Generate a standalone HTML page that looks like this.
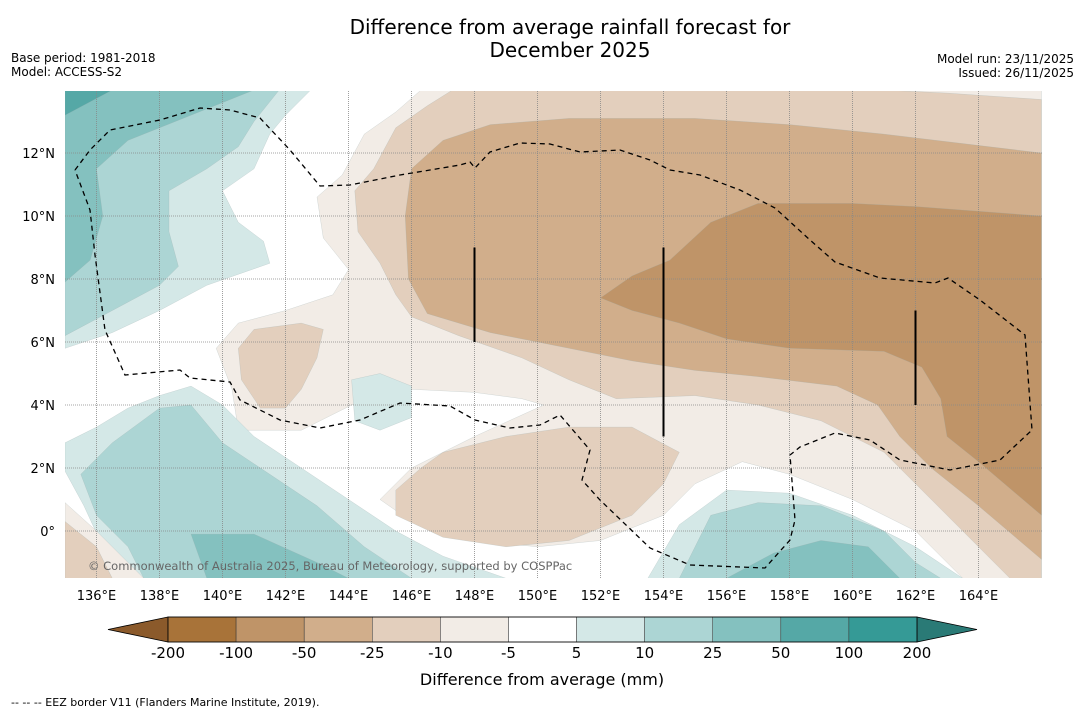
<!DOCTYPE html>
<html><head><meta charset="utf-8">
<style>
body{margin:0;background:#fff;font-family:"Liberation Sans","DejaVu Sans",sans-serif;}
svg text{font-family:"DejaVu Sans","Liberation Sans",sans-serif;}
</style></head>
<body>
<svg id="chart" width="1085" height="713" viewBox="0 0 1085 713" xmlns="http://www.w3.org/2000/svg">
<text x="570" y="34" font-size="20" text-anchor="middle">Difference from average rainfall forecast for</text>
<text x="570" y="57" font-size="20" text-anchor="middle">December 2025</text>
<text x="11" y="62" font-size="12">Base period: 1981-2018</text>
<text x="11" y="76" font-size="12">Model: ACCESS-S2</text>
<text x="1074" y="63" font-size="12" text-anchor="end">Model run: 23/11/2025</text>
<text x="1074" y="77" font-size="12" text-anchor="end">Issued: 26/11/2025</text>
<defs><clipPath id="mapclip"><rect x="65" y="91" width="977" height="487"/></clipPath></defs>
<g id="map" clip-path="url(#mapclip)">
<rect x="65" y="91" width="977" height="487" fill="#fff"/>
<g id="fills"></g>
<g id="grid"></g>
<path id="eez" fill="none" stroke="#000" stroke-width="1.3" stroke-dasharray="5,4" d="M75,170 L90,150 110,130 160,120 200,108 230,110 260,118 290,150 320,186 350,185 400,175 460,165 470,162 475,168 490,152 520,143 550,144 580,152 620,150 650,160 670,170 700,175 740,190 775,208 810,240 835,262 880,278 935,283 948,278 980,300 1025,335 1032,430 1000,460 950,470 900,460 870,440 835,433 800,447 790,455 795,520 790,540 765,568 690,565 650,548 600,500 582,480 590,450 560,415 540,425 510,428 475,420 450,406 400,403 360,420 320,428 280,420 240,400 230,382 190,378 180,370 125,375 105,330 95,255 90,210 75,170"/>
<g id="marks"></g>
<text x="88" y="570" font-size="11.5" fill="#666">© Commonwealth of Australia 2025, Bureau of Meteorology, supported by COSPPac</text>
</g>
<g id="xticks"></g>
<g id="yticks"></g>
<g id="colorbar"></g>
<text x="542" y="685" font-size="16" text-anchor="middle">Difference from average (mm)</text>
<text x="11" y="706" font-size="11">--  --  -- EEZ border V11 (Flanders Marine Institute, 2019).</text>
</svg>
<script>
const NS="http://www.w3.org/2000/svg";
const lonMin=135, lonMax=166, latMin=-1.5, latMax=14;
const X=lon=>65+(lon-lonMin)*31.5;
const Y=lat=>531-lat*31.5;
const lonTicks=[136,138,140,142,144,146,148,150,152,154,156,158,160,162,164];
const latTicks=[0,2,4,6,8,10,12];
const cbLabels=["-200","-100","-50","-25","-10","-5","5","10","25","50","100","200"];
const cbColors=["#a87339","#bf9468","#d1ae8b","#e3cfbd","#f2ece6","#ffffff","#d4e8e7","#acd5d4","#84c1bf","#55a8a6","#359a96"];
const lowColor="#8b5a2b", highColor="#2a7a76";
const regionLevels=["#f2ece6","#e3cfbd","#e3cfbd","#e3cfbd","#d1ae8b","#bf9468","#d4e8e7","#acd5d4","#84c1bf","#55a8a6","#d4e8e7","#acd5d4","#84c1bf","#f2ece6","#e3cfbd","#d4e8e7","#d4e8e7","#acd5d4","#84c1bf"];
const regionShapes=[
[[146.3,14],[145.5,13.3],[144.5,12.6],[143.8,11.3],[143,10.6],[143.2,9.3],[144,8.3],[143.5,7.5],[142,7],[140.5,6.6],[139.8,5.8],[140.3,4.5],[140.5,3.2],[142.5,3.2],[144.5,4.2],[146,4.5],[148,4.4],[149.5,4.2],[150.2,4],[148,3],[146,2],[145,1],[146,0.3],[148,-0.3],[150,-0.5],[152,-0.3],[154,0.5],[155,1.5],[156.5,2.2],[158,1.8],[160,1],[162,0],[163.5,-1.5],[166,-1.5],[166,14]],
[[147.3,14],[146.5,13.5],[145.5,12.8],[144.8,11.5],[144.2,10.8],[144.3,9.5],[145,8.5],[145.5,7.5],[146,6.8],[147.5,6.2],[149.5,5.5],[151,4.8],[152.5,4.2],[155,4.3],[157,4],[159,3.5],[161,2.5],[162.5,1],[164,-0.5],[165,-1.5],[166,-1.5],[166,13.7],[163,13.9],[161,14]],
[[146.3,2],[147,2.5],[149,3],[151,3.3],[153,3.3],[154.5,2.5],[154,1.5],[153,0.5],[151,-0.3],[149,-0.5],[147,-0.2],[145.5,0.5],[145.5,1.3]],
[[140.5,5.8],[141,6.4],[142.5,6.6],[143.2,6.4],[143,5.5],[142.5,4.5],[142,3.9],[141.2,3.9],[140.6,4.8]],
[[148.5,12.9],[151,13.1],[155,13.1],[158,12.9],[161,12.6],[166,12],[166,-0.9],[164,0.8],[162.5,2],[161.5,3],[160.8,4],[159.5,4.6],[157,4.9],[155,5.1],[153,5.4],[151,5.8],[148.5,6.3],[146.5,6.9],[145.9,8],[145.8,10],[146,11.5],[147,12.4]],
[[152,7.4],[153,8.1],[154.2,8.6],[155.5,9.8],[157,10.4],[160,10.4],[162,10.3],[166,10],[166,0.5],[164,2.2],[163,3],[162.8,4.2],[162.2,5.2],[161,5.7],[158,5.8],[156,6.1],[154.5,6.6],[153,7]],
[[135,5.8],[136.5,6.3],[138,7],[139.5,7.8],[141.5,8.5],[141.3,9.2],[140.5,9.8],[140,10.8],[141,11.5],[141.5,12.6],[142,13.2],[142.8,14],[135,14]],
[[135,6.2],[136.5,7],[138,7.8],[138.6,8.4],[138.3,9.5],[138.3,10.8],[139.5,11.5],[140.5,12.2],[141,13],[141.8,14],[135,14]],
[[135,7.9],[135.8,8.6],[136.2,10],[136,11.5],[137,12.4],[138.5,13],[140,13.6],[141,14],[135,14]],
[[135,13.2],[136.5,14],[135,14]],
[[135,2.8],[136,3.3],[137,3.9],[138,4.3],[139,4.6],[140,4],[141,3],[142.5,2],[144,1],[145.5,0],[147,-0.8],[149,-1.5],[136.8,-1.5],[136.2,-0.5],[135.6,0.8],[135,1.9]],
[[135.5,1.8],[136.5,2.8],[138,3.9],[139,4],[140,2.8],[141.5,1.8],[143,0.8],[144.5,-0.5],[146,-1.5],[137.5,-1.5],[137,-0.5],[136,0.5]],
[[139,-0.1],[141,-0.1],[143,-1],[144,-1.5],[139.5,-1.5]],
[[135,0.9],[136,0],[137,-1],[137.5,-1.5],[135,-1.5]],
[[135,0.3],[136,-0.5],[136.5,-1.5],[135,-1.5]],
[[144.1,4.8],[145,5],[146,4.6],[146,3.6],[145,3.2],[144.2,3.5]],
[[153.5,-1.5],[154.5,0.2],[156,1.3],[158,1.2],[160,0.5],[162,-0.5],[163.5,-1.5]],
[[154.5,-1.5],[155.5,0.5],[157,0.9],[159,0.8],[161,0],[162,-1],[162.8,-1.5]],
[[156,-1.5],[157.5,-0.7],[159,-0.3],[160.5,-0.5],[161.5,-1.5]]
];
const barLons=[148,154,162];
const barTop=[9,9,7];
const barBottom=[6,3,4];

function mk(tag,attrs,parent){const e=document.createElementNS(NS,tag);for(const k in attrs)e.setAttribute(k,attrs[k]);parent.appendChild(e);return e;}
const fills=document.getElementById('fills');
regionShapes.forEach((pts,i)=>{
  const p=mk('polygon',{points:pts.map(q=>X(q[0]).toFixed(1)+','+Y(q[1]).toFixed(1)).join(' '),fill:regionLevels[i],stroke:'#9aa',"stroke-width":0.4,"stroke-opacity":0.5},fills);
  
  
});
const grid=document.getElementById('grid');
lonTicks.forEach(l=>{const g=mk('line',{x1:X(l),x2:X(l),y1:91,y2:578,stroke:'#888',"stroke-width":0.8,"stroke-dasharray":"1,1"},grid);
  
  });
latTicks.forEach(l=>{const g=mk('line',{x1:65,x2:1042,y1:Y(l),y2:Y(l),stroke:'#888',"stroke-width":0.8,"stroke-dasharray":"1,1"},grid);
  
  });
const marks=document.getElementById('marks');
barLons.forEach((l,i)=>{const b=mk('line',{x1:X(l),x2:X(l),y1:Y(barTop[i]),y2:Y(barBottom[i]),stroke:'#000',"stroke-width":2},marks);
  
  });
const xt=document.getElementById('xticks');
lonTicks.forEach(l=>{const t=mk('text',{x:X(l),y:600,"font-size":13,"text-anchor":"middle"},xt);t.textContent=l+'°E';
  
  });
const yt=document.getElementById('yticks');
latTicks.forEach(l=>{const t=mk('text',{x:55,y:Y(l)+5,"font-size":13,"text-anchor":"end"},yt);t.textContent=l===0?'0°':l+'°N';
  
  });
const cb=document.getElementById('colorbar');
const cx0=168,cx1=917,cy=617,ch=25,cw=(cx1-cx0)/cbColors.length;
const lt=mk('polygon',{points:`${cx0},${cy} 108,${cy+ch/2} ${cx0},${cy+ch}`,fill:lowColor,stroke:'#000',"stroke-width":0.8},cb);


const rt=mk('polygon',{points:`${cx1},${cy} 977,${cy+ch/2} ${cx1},${cy+ch}`,fill:highColor,stroke:'#000',"stroke-width":0.8},cb);


cbColors.forEach((c,i)=>{const r=mk('rect',{x:cx0+i*cw,y:cy,width:cw,height:ch,fill:c,stroke:'#333',"stroke-width":0.5},cb);
  
  });
mk('rect',{x:cx0,y:cy,width:cx1-cx0,height:ch,fill:'none',stroke:'#000',"stroke-width":0.8},cb);
cbLabels.forEach((s,i)=>{const t=mk('text',{x:cx0+i*cw,y:658,"font-size":15,"text-anchor":"middle"},cb);t.textContent=s;
  
  });
</script>
</body></html>
